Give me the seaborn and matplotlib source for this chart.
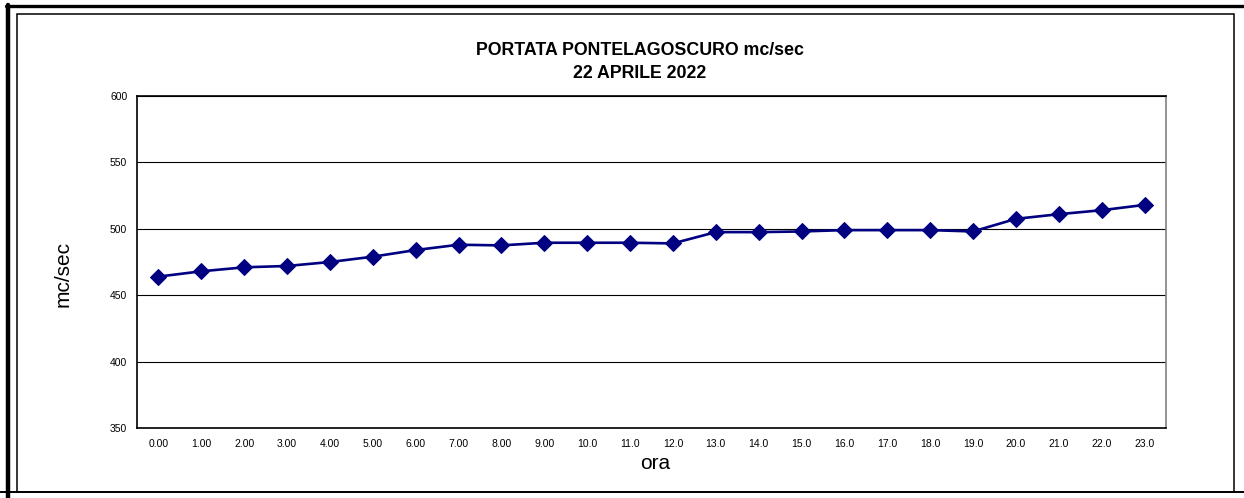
import numpy as np
import pandas as pd
import seaborn as sns
import matplotlib.pyplot as plt
from matplotlib.lines import Line2D
from matplotlib.patches import Rectangle

# data
ore = ["0.00", "1.00", "2.00", "3.00", "4.00", "5.00", "6.00", "7.00", "8.00", "9.00",
       "10.0", "11.0", "12.0", "13.0", "14.0", "15.0", "16.0", "17.0", "18.0", "19.0",
       "20.0", "21.0", "22.0", "23.0"]
portata = [464, 468, 471, 472, 475, 479, 484, 488, 487.5, 489.5,
           489.5, 489.5, 489, 497.5, 497.5, 498, 499, 499, 499, 498,
           507.5, 511, 514, 518]
y_ticks = [350, 400, 450, 500, 550, 600]

df = pd.DataFrame({"pos": np.arange(len(ore)), "ora": ore, "portata": portata})

sns.set_style("white")
plt.rcParams["font.family"] = ["Liberation Sans", "DejaVu Sans"]
plt.rcParams["text.color"] = "black"
plt.rcParams["axes.labelcolor"] = "black"
plt.rcParams["xtick.color"] = "black"
plt.rcParams["ytick.color"] = "black"

W, H = 1244, 498
fig = plt.figure(figsize=(W / 100, H / 100), dpi=100)
ax = fig.add_axes([137 / W, 1 - 428 / H, (1166 - 137) / W, (428 - 96) / H])

sns.lineplot(data=df, x="pos", y="portata", ax=ax, color="#000080", linewidth=1.9,
             marker="D", markersize=8.5, markeredgecolor="#000080", zorder=3)

ax.set_xlim(-0.5, len(ore) - 0.5)
ax.set_ylim(350, 600)
ax.set_yticks(y_ticks)
ax.set_yticklabels([str(v) for v in y_ticks], fontsize=7.5)
ax.set_xticks(df["pos"])
ax.set_xticklabels(ore, fontsize=7.5)
ax.set_xticks(np.arange(-0.5, len(ore)), minor=True)
ax.tick_params(axis="x", which="major", length=0, pad=8)
ax.tick_params(axis="x", which="minor", length=4, width=0.8, color="black", direction="out")
ax.tick_params(axis="y", length=4, width=0.8, color="black", direction="out", pad=3)
ax.yaxis.grid(True, color="black", linewidth=0.8)
ax.set_axisbelow(True)

for side in ["left", "top", "bottom"]:
    ax.spines[side].set_color("black")
    ax.spines[side].set_linewidth(1.2)
ax.spines["right"].set_color("#808080")
ax.spines["right"].set_linewidth(1.2)

ax.set_xlabel("ora", fontsize=15)
ax.set_ylabel("mc/sec", fontsize=15)
ax.xaxis.set_label_coords(0.504, -0.078)
ax.yaxis.set_label_coords(-0.063, 0.465)

fig.text(640 / W, 1 - 62 / H, "PORTATA PONTELAGOSCURO mc/sec\n22 APRILE 2022",
         ha="center", va="center", fontsize=12.8, fontweight="bold", linespacing=1.4)

# outer frames like the original spreadsheet export
fig.add_artist(Line2D([8 / W, 8 / W], [0, 1 - 5 / H], transform=fig.transFigure,
                      color="black", linewidth=3.2))
fig.add_artist(Line2D([6 / W, 1], [1 - 6 / H, 1 - 6 / H], transform=fig.transFigure,
                      color="black", linewidth=2.4))
fig.add_artist(Rectangle((17 / W, 1 - 492 / H), (1234 - 17) / W, (492 - 14) / H,
                         transform=fig.transFigure, fill=False, edgecolor="black",
                         linewidth=1.1))
fig.add_artist(Line2D([0, 1], [1 - 492 / H, 1 - 492 / H], transform=fig.transFigure,
                      color="black", linewidth=1.4))

fig.savefig("out.png", dpi=100, facecolor="white")
